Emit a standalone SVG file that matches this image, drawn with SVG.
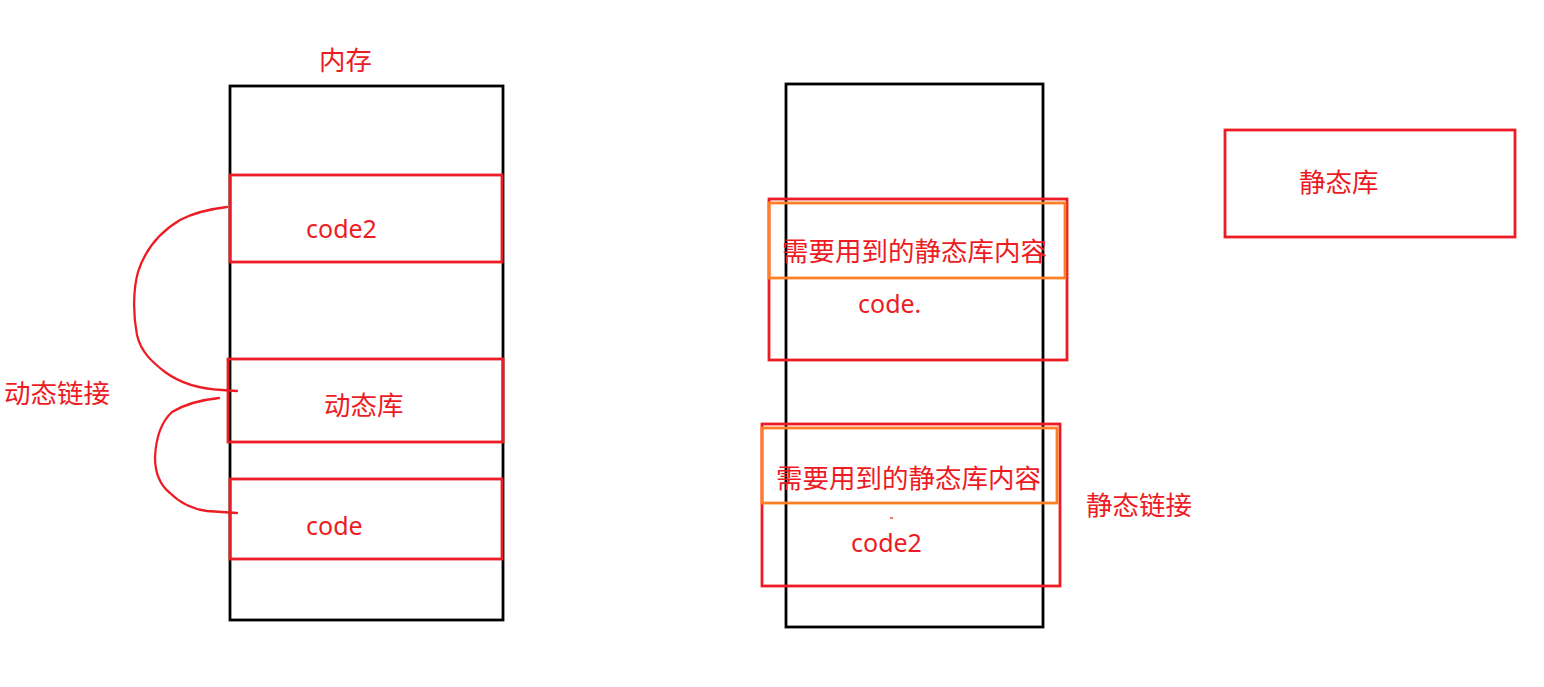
<svg xmlns="http://www.w3.org/2000/svg" width="1544" height="687" viewBox="0 0 1544 687">
<style>
.mem{fill:none;stroke:#000;stroke-width:2.8}
.red{fill:none;stroke:#ED1C24;stroke-width:2.8}
.org{fill:none;stroke:#FF7F27;stroke-width:2.8}
.t{font-family:"Noto Sans","Noto Sans CJK SC",sans-serif;font-size:25px;fill:#ED1C24}
.c{font-family:"Noto Sans CJK SC",sans-serif;font-size:26.5px;fill:#ED1C24}
.curve{fill:none;stroke:#ED1C24;stroke-width:2.3;stroke-linecap:round}
</style>
<rect width="1544" height="687" fill="#fff"/>
<g id="memory-left">
<rect class="mem" x="230" y="86" width="273" height="534"/>
<text class="c" x="319" y="70">内存</text>
</g>
<g id="code2-left">
<rect class="red" x="230" y="175" width="272" height="87"/>
<text class="t" x="306" y="238">code2</text>
</g>
<g id="dynlib">
<rect class="red" x="228" y="359" width="275" height="83"/>
<text class="c" x="324" y="415">动态库</text>
</g>
<g id="code-left">
<rect class="red" x="230" y="479" width="272" height="80"/>
<text class="t" x="306" y="535">code</text>
</g>
<g id="dynlink-label">
<text class="c" x="4" y="403">动态链接</text>
</g>
<g id="memory-right">
<rect class="mem" x="786" y="84" width="257" height="543"/>
</g>
<g id="static-part1">
<rect class="red" x="769" y="199" width="298" height="161"/>
<rect class="org" x="769" y="203" width="296" height="75"/>
<text class="c" x="782" y="261">需要用到的静态库内容</text>
<text class="t" x="858" y="313">code.</text>
</g>
<g id="static-part2">
<rect class="red" x="762" y="424" width="298" height="162"/>
<rect class="org" x="762" y="428" width="295" height="75"/>
<text class="c" x="776" y="488">需要用到的静态库内容</text>
<text class="t" x="851" y="552">code2</text>
<line x1="890" y1="518" x2="893" y2="518" stroke="#ED1C24" stroke-width="1.2"/>
</g>
<g id="staticlink-label">
<text class="c" x="1086" y="515">静态链接</text>
</g>
<g id="staticlib">
<rect class="red" x="1225" y="130" width="290" height="107"/>
<text class="c" x="1299" y="192">静态库</text>
</g>
<g id="connectors">
<path class="curve" d="M227,207 C210,209 195,212 180,220 C160,232 145,250 138,272 C133,290 133,315 137,335 C141,352 152,362 165,372 C180,383 200,389 222,390 L237,391"/>
<path class="curve" d="M219,398 C200,400 185,404 172,412 C161,422 156,438 155,457 C155,472 160,485 170,493 C180,503 192,509 207,511 L237,513"/>
</g>
</svg>
